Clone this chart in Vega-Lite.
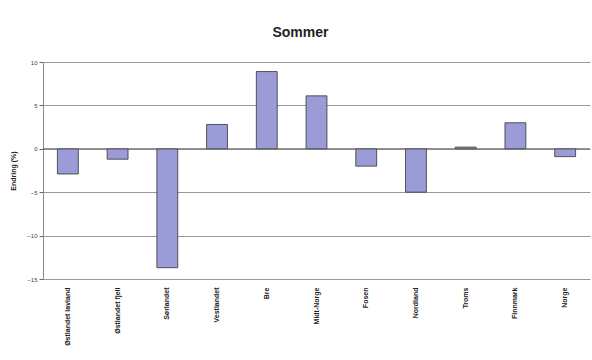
{
  "$schema": "https://vega.github.io/schema/vega-lite/v6.json",
  "autosize": "none",
  "width": 547,
  "height": 217,
  "padding": {"left": 43, "top": 62, "right": 2, "bottom": 81},
  "background": "white",
  "title": {"text": "Sommer", "font": "Liberation Sans", "fontSize": 14, "fontWeight": "bold", "color": "#222", "offset": 19, "anchor": "middle", "dx": -16},
  "data": {"values": [
    {"region": "Østlandet lavland", "endring": -2.9},
    {"region": "Østlandet fjell", "endring": -1.2},
    {"region": "Sørlandet", "endring": -13.7},
    {"region": "Vestlandet", "endring": 2.8},
    {"region": "Bre", "endring": 8.9},
    {"region": "Midt-Norge", "endring": 6.1},
    {"region": "Fosen", "endring": -2.0},
    {"region": "Nordland", "endring": -5.0},
    {"region": "Troms", "endring": 0.2},
    {"region": "Finnmark", "endring": 3.0},
    {"region": "Norge", "endring": -0.9}
  ]},
  "config": {"view": {"stroke": null}},
  "layer": [
    {
      "mark": {"type": "bar", "color": "#9b9bd8", "stroke": "#333", "strokeWidth": 0.8},
      "encoding": {
        "x": {"field": "region", "type": "nominal", "sort": null,
          "scale": {"paddingInner": 0.58, "paddingOuter": 0.29},
          "axis": {"title": null, "labelAngle": -90, "labelAlign": "right", "labelBaseline": "middle", "labelFont": "Liberation Sans", "labelFontSize": 7, "labelFontWeight": "bold", "labelColor": "#222", "ticks": false, "domain": false, "labelPadding": 8}},
        "y": {"field": "endring", "type": "quantitative",
          "scale": {"domain": [-15, 10], "nice": false},
          "axis": {"title": "Endring (%)", "titleFont": "Liberation Sans", "titleFontSize": 7, "titleFontWeight": "bold", "titleColor": "#222", "titlePadding": 10, "values": [-15, -10, -5, 0, 5, 10], "labelFont": "Liberation Sans", "labelFontSize": 6, "labelColor": "#444", "tickColor": "#666", "tickSize": 4, "domainColor": "#888", "gridColor": "#999", "gridWidth": 1}}
      }
    },
    {
      "mark": {"type": "rule", "color": "#666", "strokeWidth": 1},
      "data": {"values": [{"z": 0}]},
      "encoding": {"y": {"field": "z", "type": "quantitative"}}
    }
  ]
}
